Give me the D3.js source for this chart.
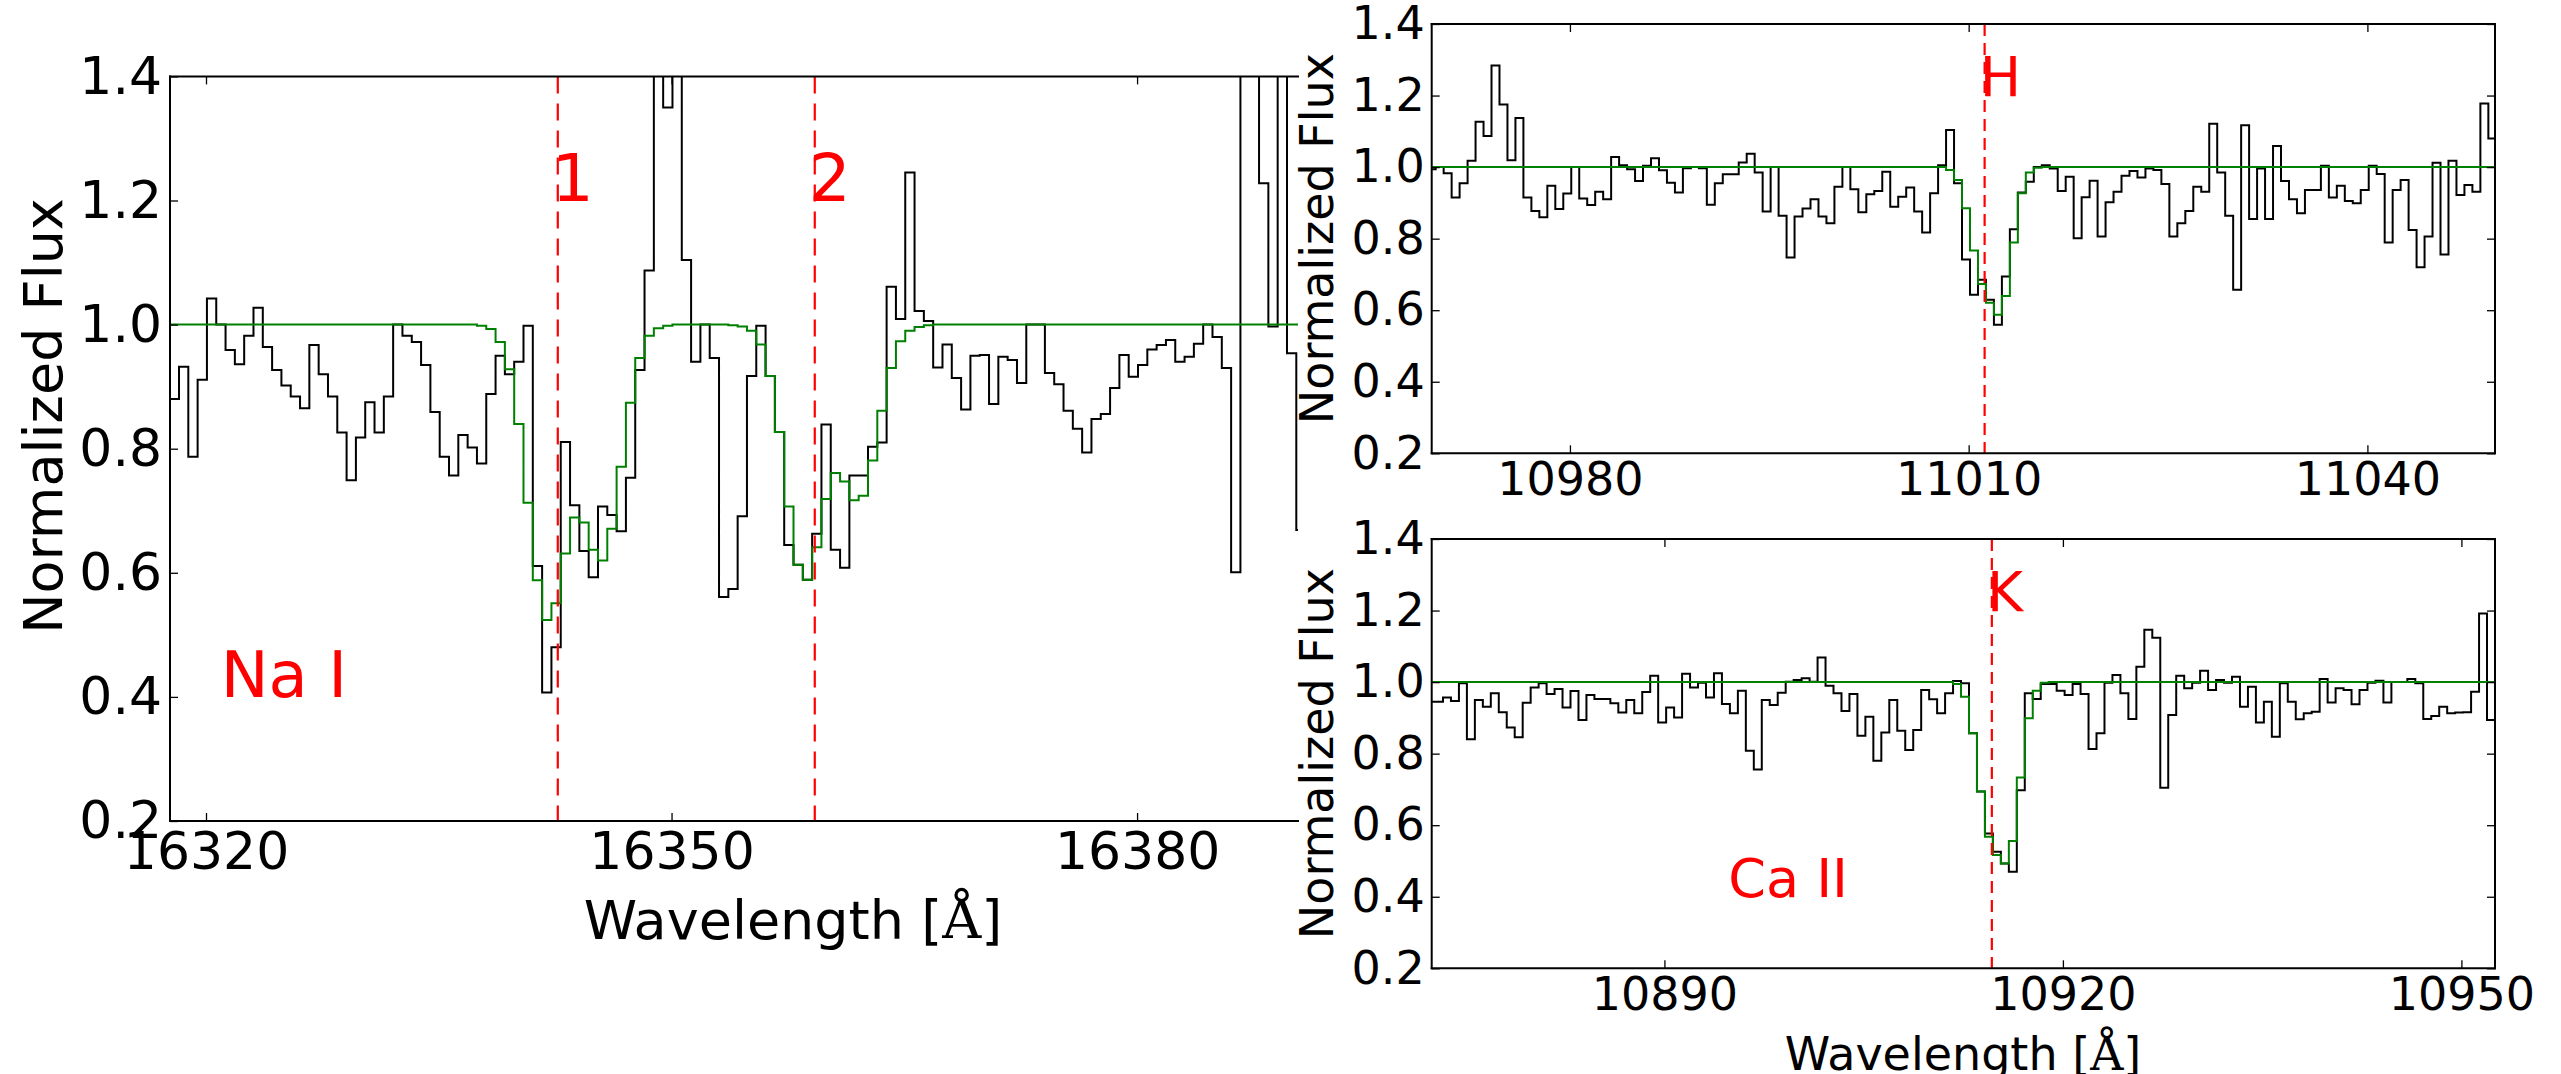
<!DOCTYPE html>
<html>
<head>
<meta charset="utf-8">
<script src="https://cdnjs.cloudflare.com/ajax/libs/d3/7.8.5/d3.min.js"></script>
<style>
  body { margin: 0; background: #fff; }
  svg { display: block; }
  text { font-family: "DejaVu Sans", sans-serif; }
</style>
</head>
<body>
<div id="chart"></div>
<script>
// spectra: one value per 0.6 A pixel, first value is the pixel left of edge0
var step = 0.6;

// Na I panel
var naEdge0 = 16318.26;
var naFlux = [
  0.880, 0.932, 0.787, 0.911, 1.042, 1.000, 0.959, 0.936, 0.982, 1.027,
  0.964, 0.927, 0.902, 0.884, 0.865, 0.967, 0.920, 0.884, 0.826, 0.749,
  0.818, 0.875, 0.826, 0.884, 1.000, 0.982, 0.972, 0.935, 0.859, 0.787,
  0.757, 0.822, 0.802, 0.776, 0.888, 0.950, 0.920, 0.940, 0.998, 0.611,
  0.407, 0.480, 0.811, 0.709, 0.635, 0.593, 0.707, 0.693, 0.667, 0.753,
  0.927, 1.087, 1.600, 1.350, 1.550, 1.104, 0.940, 1.000, 0.946, 0.561,
  0.574, 0.691, 0.917, 0.998, 0.917, 0.827, 0.645, 0.613, 0.589, 0.663,
  0.839, 0.637, 0.608, 0.757, 0.757, 0.803, 0.810, 1.061, 1.009, 1.245,
  1.022, 1.006, 0.931, 0.968, 0.914, 0.863, 0.950, 0.951, 0.872, 0.948,
  0.943, 0.906, 1.000, 1.000, 0.922, 0.904, 0.861, 0.832, 0.794, 0.848,
  0.856, 0.898, 0.951, 0.916, 0.935, 0.960, 0.967, 0.975, 0.940, 0.948,
  0.969, 1.000, 0.980, 0.930, 0.601, 1.700, 1.650, 1.228, 0.997, 1.600,
  0.954, 0.669
];
var naModel = [
  1, 1, 1, 1, 1, 1, 1, 1, 1, 1,
  1, 1, 1, 1, 1, 1, 1, 1, 1, 1,
  1, 1, 1, 1, 1, 1, 1, 1, 1, 1,
  1, 1, 1, 0.998, 0.993, 0.972, 0.928, 0.840, 0.713, 0.588,
  0.524, 0.551, 0.631, 0.689, 0.681, 0.637, 0.620, 0.671, 0.771, 0.874,
  0.946, 0.982, 0.994, 0.998, 1, 1, 1, 1, 1, 1,
  0.999, 0.997, 0.990, 0.968, 0.917, 0.827, 0.707, 0.613, 0.589, 0.641,
  0.719, 0.761, 0.747, 0.717, 0.724, 0.781, 0.861, 0.930, 0.973, 0.990,
  0.996, 0.999, 1, 1, 1, 1, 1, 1, 1, 1,
  1, 1, 1, 1, 1, 1, 1, 1, 1, 1,
  1, 1, 1, 1, 1, 1, 1, 1, 1, 1,
  1, 1, 1, 1, 1, 1, 1, 1, 1, 1,
  1, 1
];
var naLines = [16342.67, 16359.23];
var naLineNames = ["1", "2"];
var naTicks = [16320, 16350, 16380];

// Ca II H panel
var hEdge0 = 10969.90;
var hFlux = [
  0.994, 1.000, 0.983, 0.915, 0.955, 1.018, 1.127, 1.087, 1.284, 1.175,
  1.019, 1.137, 0.915, 0.877, 0.860, 0.948, 0.883, 0.926, 1.000, 0.912,
  0.894, 0.931, 0.910, 1.028, 1.005, 0.994, 0.961, 1.004, 1.025, 0.991,
  0.956, 0.929, 0.997, 1.000, 0.997, 0.895, 0.955, 0.980, 0.980, 1.013,
  1.037, 0.985, 0.876, 1.000, 0.864, 0.747, 0.862, 0.884, 0.910, 0.862,
  0.843, 0.945, 1.000, 0.938, 0.874, 0.924, 0.933, 0.987, 0.889, 0.917,
  0.943, 0.876, 0.817, 0.927, 1.005, 1.104, 0.955, 0.742, 0.643, 0.685,
  0.629, 0.559, 0.694, 0.826, 0.929, 0.959, 1.000, 1.005, 0.996, 0.933,
  0.973, 0.801, 0.916, 0.962, 0.806, 0.902, 0.931, 0.976, 0.989, 0.971,
  0.996, 0.992, 0.953, 0.806, 0.843, 0.877, 0.945, 0.931, 1.121, 0.985,
  0.864, 0.657, 1.117, 0.855, 0.996, 0.855, 1.059, 0.961, 0.910, 0.871,
  0.936, 0.936, 1.004, 0.915, 0.948, 0.905, 0.899, 0.936, 1.004, 0.981,
  0.789, 0.936, 0.964, 0.824, 0.720, 0.806, 1.012, 0.756, 1.018, 0.922,
  0.950, 0.931, 1.178, 1.080
];
var hModel = [
  1, 1, 1, 1, 1, 1, 1, 1, 1, 1,
  1, 1, 1, 1, 1, 1, 1, 1, 1, 1,
  1, 1, 1, 1, 1, 1, 1, 1, 1, 1,
  1, 1, 1, 1, 1, 1, 1, 1, 1, 1,
  1, 1, 1, 1, 1, 1, 1, 1, 1, 1,
  1, 1, 1, 1, 1, 1, 1, 1, 1, 1,
  1, 1, 1, 1, 1, 0.992, 0.964, 0.885, 0.767, 0.673,
  0.621, 0.587, 0.640, 0.789, 0.927, 0.985, 0.998, 1, 1, 1,
  1, 1, 1, 1, 1, 1, 1, 1, 1, 1,
  1, 1, 1, 1, 1, 1, 1, 1, 1, 1,
  1, 1, 1, 1, 1, 1, 1, 1, 1, 1,
  1, 1, 1, 1, 1, 1, 1, 1, 1, 1,
  1, 1, 1, 1, 1, 1, 1, 1, 1, 1,
  1, 1, 1, 1
];
var hLines = [11011.2];
var hLineNames = ["H"];
var hTicks = [10980, 11010, 11040];

// Ca II K panel
var kEdge0 = 10872.73;
var kFlux = [
  0.945, 0.945, 0.957, 0.947, 0.997, 0.840, 0.950, 0.931, 0.969, 0.916,
  0.873, 0.846, 0.942, 0.985, 0.997, 0.967, 0.981, 0.929, 0.975, 0.894,
  0.964, 0.953, 0.953, 0.941, 0.915, 0.950, 0.913, 0.972, 1.018, 0.887,
  0.929, 0.901, 1.023, 0.985, 0.998, 0.957, 1.025, 0.939, 0.913, 0.976,
  0.808, 0.756, 0.950, 0.936, 0.970, 1.001, 1.006, 1.011, 1.001, 1.069,
  0.990, 0.969, 0.919, 0.967, 0.850, 0.903, 0.780, 0.859, 0.950, 0.864,
  0.810, 0.866, 0.978, 0.952, 0.913, 0.969, 1.003, 0.997, 0.857, 0.694,
  0.577, 0.526, 0.493, 0.470, 0.698, 0.969, 0.953, 0.995, 0.995, 0.976,
  0.964, 0.995, 0.967, 0.813, 0.857, 0.998, 1.020, 0.969, 0.897, 1.043,
  1.146, 1.124, 0.705, 0.908, 1.018, 0.983, 0.998, 1.032, 0.978, 1.006,
  0.998, 1.015, 0.931, 0.987, 0.887, 0.945, 0.847, 0.997, 0.945, 0.896,
  0.913, 0.917, 1.009, 0.943, 0.983, 0.978, 0.938, 0.978, 0.998, 1.004,
  0.943, 1.000, 1.000, 1.009, 0.997, 0.897, 0.905, 0.931, 0.913, 0.915,
  0.916, 0.973, 1.192, 0.894
];
var kModel = [
  1, 1, 1, 1, 1, 1, 1, 1, 1, 1,
  1, 1, 1, 1, 1, 1, 1, 1, 1, 1,
  1, 1, 1, 1, 1, 1, 1, 1, 1, 1,
  1, 1, 1, 1, 1, 1, 1, 1, 1, 1,
  1, 1, 1, 1, 1, 1, 1, 1, 1, 1,
  1, 1, 1, 1, 1, 1, 1, 1, 1, 1,
  1, 1, 1, 1, 1, 1, 0.995, 0.959, 0.857, 0.694,
  0.568, 0.517, 0.493, 0.556, 0.733, 0.899, 0.976, 0.998, 1, 1,
  1, 1, 1, 1, 1, 1, 1, 1, 1, 1,
  1, 1, 1, 1, 1, 1, 1, 1, 1, 1,
  1, 1, 1, 1, 1, 1, 1, 1, 1, 1,
  1, 1, 1, 1, 1, 1, 1, 1, 1, 1,
  1, 1, 1, 1, 1, 1, 1, 1, 1, 1,
  1, 1, 1, 1
];
var kLines = [10914.65];
var kLineNames = ["K"];
var kTicks = [10890, 10920, 10950];

var yTicks = [0.2, 0.4, 0.6, 0.8, 1.0, 1.2, 1.4];

var W = 2561, H = 1074;
var svg = d3.select("#chart").append("svg")
    .attr("width", W)
    .attr("height", H);
svg.append("rect").attr("width", W).attr("height", H).attr("fill", "#fff");

// layout of the three axes
var panels = [
  {name: "na", left: 170, right: 1298, top: 76.4, bottom: 821, domain: [16317.68, 16390.37],
   edge0: naEdge0, flux: naFlux, model: naModel, lines: naLines, names: naLineNames, ticks: naTicks,
   fs: 52, lfs: 66, dash: "17,10", xpad: 11, ypad: 8, rightSpine: false,
   tag: "Na I", tagAt: [16320.95, 0.4], tagFs: 64},
  {name: "h", left: 1431.7, right: 2495, top: 24, bottom: 453.3, domain: [10969.6, 11049.6],
   edge0: hEdge0, flux: hFlux, model: hModel, lines: hLines, names: hLineNames, ticks: hTicks,
   fs: 46, lfs: 55, dash: "12,7", xpad: 9, ypad: 7, rightSpine: true},
  {name: "k", left: 1431.7, right: 2495, top: 539, bottom: 968.3, domain: [10872.48, 10952.53],
   edge0: kEdge0, flux: kFlux, model: kModel, lines: kLines, names: kLineNames, ticks: kTicks,
   fs: 46, lfs: 55, dash: "12,7", xpad: 9, ypad: 7, rightSpine: true,
   tag: "Ca II", tagAt: [10894.8, 0.4], tagFs: 54}
];

panels.forEach(function(p) {
  var x = d3.scaleLinear().domain(p.domain).range([p.left, p.right]);
  var y = d3.scaleLinear().domain([0.2, 1.4]).range([p.bottom, p.top]);
  var g = svg.append("g");

  svg.append("clipPath").attr("id", "clip-" + p.name)
    .append("rect")
      .attr("x", p.left).attr("y", p.top)
      .attr("width", p.right - p.left).attr("height", p.bottom - p.top);

  // step curve from pixel left edges, closed at the right edge of the last pixel
  function steps(vals) {
    var pts = vals.map(function(v, i) { return [p.edge0 + (i - 1) * step, v]; });
    pts.push([p.edge0 + (vals.length - 1) * step, vals[vals.length - 1]]);
    return pts;
  }
  var line = d3.line()
      .x(function(d) { return x(d[0]); })
      .y(function(d) { return y(d[1]); })
      .curve(d3.curveStepAfter);

  var plot = g.append("g").attr("clip-path", "url(#clip-" + p.name + ")");
  plot.append("path")
      .attr("d", line(steps(p.flux)))
      .attr("fill", "none").attr("stroke", "#000").attr("stroke-width", 2);
  plot.append("path")
      .attr("d", line(steps(p.model)))
      .attr("fill", "none").attr("stroke", "#008000").attr("stroke-width", 2);

  p.lines.forEach(function(l, i) {
    plot.append("line")
        .attr("x1", x(l)).attr("x2", x(l))
        .attr("y1", p.top).attr("y2", p.bottom)
        .attr("stroke", "#ff0000").attr("stroke-width", 2.2)
        .attr("stroke-dasharray", p.dash);
    g.append("text")
        .attr("x", x(l) - 0.09 * p.lfs)
        .attr("y", y(1.2))
        .attr("font-size", p.lfs)
        .attr("fill", "#ff0000")
        .text(p.names[i]);
  });

  if (p.tag) {
    g.append("text")
        .attr("x", x(p.tagAt[0]))
        .attr("y", y(p.tagAt[1]))
        .attr("font-size", p.tagFs)
        .attr("fill", "#ff0000")
        .text(p.tag);
  }

  // axes: inward ticks on every drawn side
  var bottomAxis = d3.axisBottom(x).tickValues(p.ticks).tickFormat(d3.format("d"))
      .tickSizeInner(-8).tickSizeOuter(0).tickPadding(p.xpad);
  var gx = g.append("g").attr("transform", "translate(0," + p.bottom + ")").call(bottomAxis);
  var topAxis = d3.axisTop(x).tickValues(p.ticks).tickFormat("")
      .tickSizeInner(-8).tickSizeOuter(0);
  var gt = g.append("g").attr("transform", "translate(0," + p.top + ")").call(topAxis);
  var leftAxis = d3.axisLeft(y).tickValues(yTicks).tickFormat(d3.format(".1f"))
      .tickSizeInner(-8).tickSizeOuter(0).tickPadding(p.ypad);
  var gy = g.append("g").attr("transform", "translate(" + p.left + ",0)").call(leftAxis);
  var axes = [gx, gt, gy];
  if (p.rightSpine) {
    var rightAxis = d3.axisRight(y).tickValues(yTicks).tickFormat("")
        .tickSizeInner(-8).tickSizeOuter(0);
    axes.push(g.append("g").attr("transform", "translate(" + p.right + ",0)").call(rightAxis));
  }
  axes.forEach(function(a) {
    a.select(".domain").remove();
    a.selectAll(".tick line").attr("stroke", "#000").attr("stroke-width", 1.3);
    a.selectAll("text")
        .attr("font-family", "DejaVu Sans, sans-serif")
        .attr("font-size", p.fs)
        .attr("fill", "#000");
  });

  // spines
  var sp = [[p.left, p.top, p.right, p.top], [p.left, p.bottom, p.right, p.bottom], [p.left, p.top, p.left, p.bottom]];
  if (p.rightSpine) sp.push([p.right, p.top, p.right, p.bottom]);
  sp.forEach(function(s) {
    g.append("line")
        .attr("x1", s[0]).attr("y1", s[1]).attr("x2", s[2]).attr("y2", s[3])
        .attr("stroke", "#000").attr("stroke-width", 2)
        .attr("stroke-linecap", "square");
  });
});

// axis labels
function wavelengthLabel(cx, cy, fs) {
  var t = svg.append("text")
      .attr("x", cx).attr("y", cy)
      .attr("text-anchor", "middle")
      .attr("font-size", fs)
      .attr("fill", "#000");
  t.append("tspan").text("Wavelength [");
  t.append("tspan").attr("font-family", "DejaVu Serif, serif").text("\u00C5");
  t.append("tspan").text("]");
}
function fluxLabel(bx, cy, fs) {
  svg.append("text")
      .attr("transform", "translate(" + bx + "," + cy + ") rotate(-90)")
      .attr("text-anchor", "middle")
      .attr("font-size", fs)
      .attr("fill", "#000")
      .text("Normalized Flux");
}

wavelengthLabel(793, 939, 54);
fluxLabel(62, 416, 54);

wavelengthLabel(1963, 1070, 46);
fluxLabel(1333, 238.6, 46);
fluxLabel(1333, 753.6, 46);
</script>
</body>
</html>
